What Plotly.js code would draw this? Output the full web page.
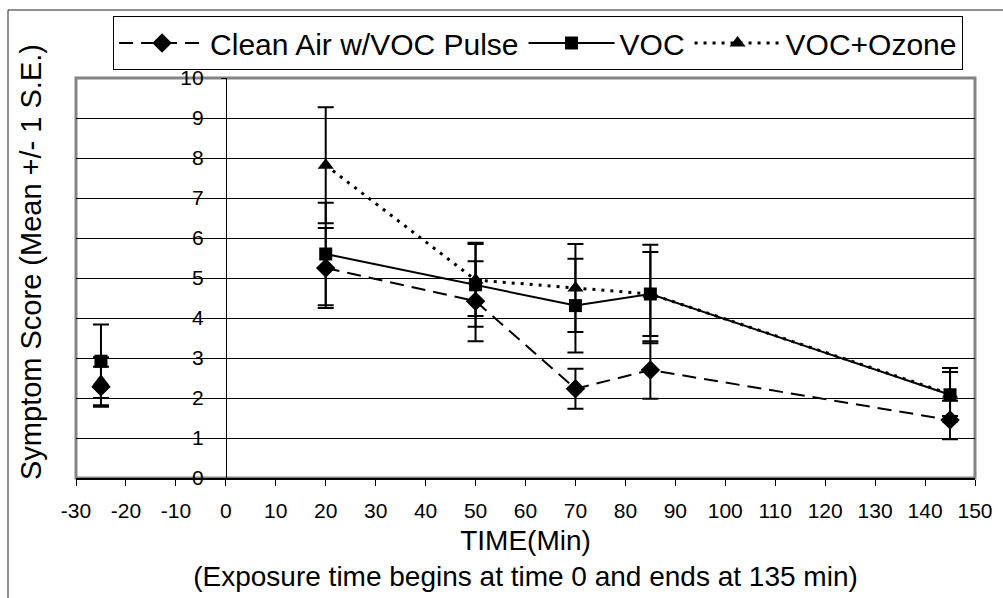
<!DOCTYPE html>
<html>
<head>
<meta charset="utf-8">
<script src="https://cdn.plot.ly/plotly-3.0.1.min.js"></script>
<style>html,body{margin:0;padding:0;background:#fff;}#chart{width:1003px;height:598px;}</style>
</head>
<body>
<div id="chart"></div>
<script>
// ---- data ----
const seriesNames = ['Clean Air w/VOC Pulse', 'VOC', 'VOC+Ozone'];
const preX  = [-25];
const mainX = [20, 50, 70, 85, 145];

const cleanPre    = [2.28];
const cleanPreErr = [0.5];
const clean       = [5.25, 4.42, 2.23, 2.7, 1.45];
const cleanErr    = [1.0, 1.0, 0.5, 0.72, 0.48];

const vocPre    = [2.92];
const vocPreErr = [0.92];
const voc       = [5.6, 4.83, 4.31, 4.6, 2.08];
const vocErr    = [1.28, 1.05, 1.17, 1.23, 0.67];

const ozPre    = [2.42];
const ozPreErr = [0.6];
const oz       = [7.82, 4.95, 4.75, 4.6, 2.1];
const ozErr    = [1.45, 0.9, 1.1, 1.05, 0.55];

const xTicks = [-30,-20,-10,0,10,20,30,40,50,60,70,80,90,100,110,120,130,140,150];
const yTicks = [0,1,2,3,4,5,6,7,8,9,10];

// ---- styles ----
const styles = [
  {symbol:'diamond', size:15, dash:'14px,8px', width:2},
  {symbol:'square', size:13, dash:'solid', width:2},
  {symbol:'triangle-up', size:14, dash:'3px,6px', width:3}
];
const pre  = [[cleanPre, cleanPreErr],[vocPre, vocPreErr],[ozPre, ozPreErr]];
const main = [[clean, cleanErr],[voc, vocErr],[oz, ozErr]];

const traces = [];
for (let i=0;i<3;i++){
  const st = styles[i];
  traces.push({
    x: mainX, y: main[i][0], name: seriesNames[i], type:'scatter', mode:'lines+markers',
    line:{color:'#000', width:st.width, dash:st.dash},
    marker:{symbol:st.symbol, size:st.size, color:'#000'},
    error_y:{type:'data', array:main[i][1], visible:true, color:'#000', thickness:2, width:8},
    cliponaxis:false
  });
  traces.push({
    x: preX, y: pre[i][0], name: seriesNames[i], type:'scatter', mode:'markers', showlegend:false,
    marker:{symbol:st.symbol, size:st.size, color:'#000'},
    error_y:{type:'data', array:pre[i][1], visible:true, color:'#000', thickness:2, width:8},
    cliponaxis:false
  });
}

const L=76, R=975, T=78, B=478;
const pw=R-L, ph=B-T;
const px = v => (v-L)/pw;
const py = v => (B-v)/ph;

const layout = {
  width:1003, height:598,
  margin:{l:L, r:1003-R, t:T, b:598-B, pad:0},
  paper_bgcolor:'#fff', plot_bgcolor:'#fff',
  font:{family:'"Liberation Sans", Arial, sans-serif', color:'#000', size:20},
  showlegend:true,
  legend:{orientation:'h', x:0.514, xanchor:'center', y:py(16), yanchor:'top',
          bgcolor:'#fff', bordercolor:'#000', borderwidth:1,
          font:{size:30, color:'#000'}, itemwidth:86, tracegroupgap:0},
  xaxis:{range:[-30,150], tickvals:xTicks, ticktext:xTicks.map(String),
         showgrid:false, zeroline:false, showline:true, linecolor:'#000', linewidth:1.5,
         ticks:'outside', ticklen:6, tickcolor:'#000', tickwidth:1,
         tickfont:{size:21}, tickangle:0, ticklabelstandoff:7,
         title:{text:'TIME(Min)<br>(Exposure time begins at time 0 and ends at 135 min)', font:{size:28}, standoff:9}},
  yaxis:{range:[0,10], tickvals:yTicks, ticktext:yTicks.map(String),
         anchor:'free', position:30/180,
         showgrid:true, gridcolor:'#000', gridwidth:1, zeroline:false,
         showline:true, linecolor:'#000', linewidth:1,
         ticks:'outside', ticklen:5, tickcolor:'#000', tickfont:{size:21},
         ticklabelstandoff:13},
  shapes:[
    {type:'rect', xref:'paper', yref:'paper', x0:0, x1:1, y0:0, y1:1,
     line:{color:'#848484', width:3}, layer:'below'},
    {type:'rect', xref:'paper', yref:'paper', x0:px(8), x1:px(1010), y0:py(610), y1:py(10),
     line:{color:'#222', width:1}, layer:'below'}
  ],
  annotations:[
    {text:'Symptom Score (Mean +/- 1 S.E.)', xref:'paper', yref:'paper', x:px(31), y:py(262),
     xanchor:'center', yanchor:'middle', textangle:-90, showarrow:false, font:{size:29, color:'#000'}}
  ]
};

Plotly.newPlot('chart', traces, layout, {displayModeBar:false, staticPlot:true});
</script>
</body>
</html>
